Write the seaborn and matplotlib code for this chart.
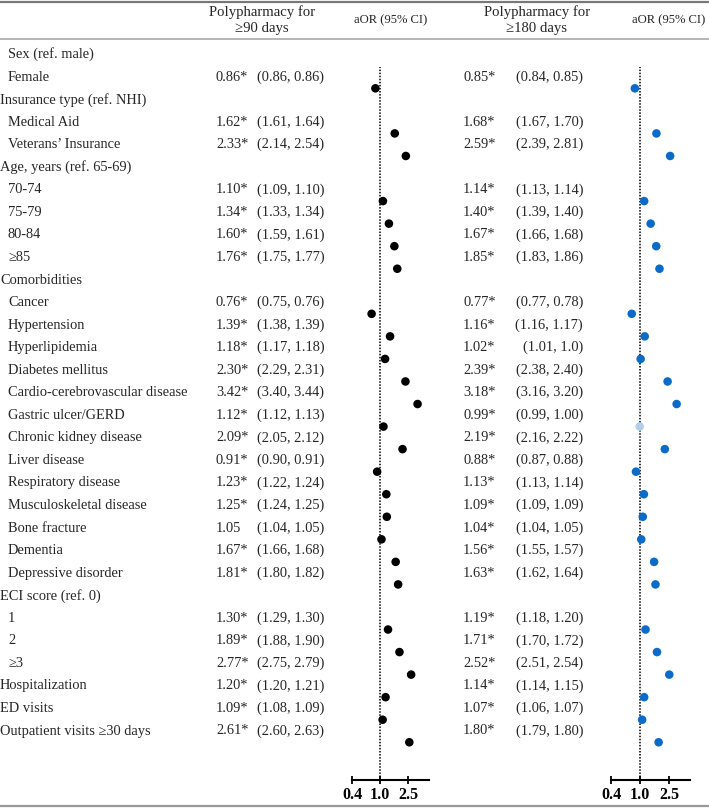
import numpy as np
import matplotlib.pyplot as plt
import seaborn as sns

# table rows (header rows have no estimates)
labels = ['Sex (ref. male)', 'Female', 'Insurance type (ref. NHI)', 'Medical Aid',
          'Veterans\u2019 Insurance', 'Age, years (ref. 65-69)', '70-74', '75-79',
          '80-84', '\u226585', 'Comorbidities', 'Cancer', 'Hypertension',
          'Hyperlipidemia', 'Diabetes mellitus', 'Cardio-cerebrovascular disease',
          'Gastric ulcer/GERD', 'Chronic kidney disease', 'Liver disease',
          'Respiratory disease', 'Musculoskeletal disease', 'Bone fracture',
          'Dementia', 'Depressive disorder', 'ECI score (ref. 0)', '1', '2',
          '\u22653', 'Hospitalization', 'ED visits', 'Outpatient visits \u226530 days']
indent = [1, 1, 0, 1, 1, 0, 1, 1, 1, 1, 0, 1, 1, 1, 1, 1, 1, 1, 1, 1, 1, 1, 1, 1,
          0, 1, 1, 1, 0, 0, 0]

# polypharmacy for >=90 days
aor_90 = [np.nan, 0.86, np.nan, 1.62, 2.33, np.nan, 1.10, 1.34, 1.60, 1.76, np.nan,
          0.76, 1.39, 1.18, 2.30, 3.42, 1.12, 2.09, 0.91, 1.23, 1.25, 1.05, 1.67,
          1.81, np.nan, 1.30, 1.89, 2.77, 1.20, 1.09, 2.61]
est_90 = ['', '0.86*', '', '1.62*', '2.33*', '', '1.10*', '1.34*', '1.60*', '1.76*', '',
          '0.76*', '1.39*', '1.18*', '2.30*', '3.42*', '1.12*', '2.09*', '0.91*',
          '1.23*', '1.25*', '1.05', '1.67*', '1.81*', '', '1.30*', '1.89*', '2.77*',
          '1.20*', '1.09*', '2.61*']
ci_90 = ['', '(0.86, 0.86)', '', '(1.61, 1.64)', '(2.14, 2.54)', '', '(1.09, 1.10)',
         '(1.33, 1.34)', '(1.59, 1.61)', '(1.75, 1.77)', '', '(0.75, 0.76)',
         '(1.38, 1.39)', '(1.17, 1.18)', '(2.29, 2.31)', '(3.40, 3.44)', '(1.12, 1.13)',
         '(2.05, 2.12)', '(0.90, 0.91)', '(1.22, 1.24)', '(1.24, 1.25)', '(1.04, 1.05)',
         '(1.66, 1.68)', '(1.80, 1.82)', '', '(1.29, 1.30)', '(1.88, 1.90)',
         '(2.75, 2.79)', '(1.20, 1.21)', '(1.08, 1.09)', '(2.60, 2.63)']

# polypharmacy for >=180 days
aor_180 = [np.nan, 0.85, np.nan, 1.68, 2.59, np.nan, 1.14, 1.40, 1.67, 1.85, np.nan,
           0.77, 1.16, 1.02, 2.39, 3.18, 0.99, 2.19, 0.88, 1.13, 1.09, 1.04, 1.56,
           1.63, np.nan, 1.19, 1.71, 2.52, 1.14, 1.07, 1.80]
est_180 = ['', '0.85*', '', '1.68*', '2.59*', '', '1.14*', '1.40*', '1.67*', '1.85*', '',
           '0.77*', '1.16*', '1.02*', '2.39*', '3.18*', '0.99*', '2.19*', '0.88*',
           '1.13*', '1.09*', '1.04*', '1.56*', '1.63*', '', '1.19*', '1.71*', '2.52*',
           '1.14*', '1.07*', '1.80*']
ci_180 = ['', '(0.84, 0.85)', '', '(1.67, 1.70)', '(2.39, 2.81)', '', '(1.13, 1.14)',
          '(1.39, 1.40)', '(1.66, 1.68)', '(1.83, 1.86)', '', '(0.77, 0.78)',
          '(1.16, 1.17)', '(1.01, 1.0)', '(2.38, 2.40)', '(3.16, 3.20)', '(0.99, 1.00)',
          '(2.16, 2.22)', '(0.87, 0.88)', '(1.13, 1.14)', '(1.09, 1.09)', '(1.04, 1.05)',
          '(1.55, 1.57)', '(1.62, 1.64)', '', '(1.18, 1.20)', '(1.70, 1.72)',
          '(2.51, 2.54)', '(1.14, 1.15)', '(1.06, 1.07)', '(1.79, 1.80)']

axis_ticks = [0.4, 1.0, 2.5]
tick_labels = ['0.4', '1.0', '2.5']


sns.set_theme(style='white')
plt.rcParams['font.family'] = ['Liberation Serif', 'DejaVu Serif']

W, H = 709, 810
ROW0, ROWH = 54.5, 22.55


def row_of(px):
    return (px - ROW0) / ROWH


fig = plt.figure(figsize=(W / 100, H / 100), dpi=100)

# text layer in pixel-x / row-y coordinates
ax_t = fig.add_axes([0, 0, 1, 1])
ax_t.set_xlim(0, W)
ax_t.set_ylim(row_of(H), row_of(0))
ax_t.axis('off')

fs = 10.4
rows = np.arange(len(labels))
for r in rows:
    ax_t.text(8 if indent[r] else 0, r, labels[r], fontsize=fs, va='center', ha='left')
    ax_t.text(216, r, est_90[r], fontsize=fs, va='center', ha='left')
    ax_t.text(257, r, ci_90[r], fontsize=fs, va='center', ha='left')
    ax_t.text(463, r, est_180[r], fontsize=fs, va='center', ha='left')
    ax_t.text(583, r, ci_180[r], fontsize=fs, va='center', ha='right')

hy = row_of(20)
ax_t.text(262, hy, 'Polypharmacy for\n\u226590 days', fontsize=10.6, ha='center',
          va='center', linespacing=1.35)
ax_t.text(537, hy, 'Polypharmacy for\n\u2265180 days', fontsize=10.6, ha='center',
          va='center', linespacing=1.35)
ax_t.text(391, hy, 'aOR (95% CI)', fontsize=9.1, ha='center', va='center')
ax_t.text(669, hy, 'aOR (95% CI)', fontsize=9.1, ha='center', va='center')

# table rules
ax_t.axhline(row_of(2), color='#777777', lw=1.6)
ax_t.axhline(row_of(39), color='#aaaaaa', lw=1.2)
ax_t.axhline(row_of(806), color='#999999', lw=1.6)


def forest(left_px, right_px, xmax, values, colors):
    ax = fig.add_axes([left_px / W, 1 - 780 / H, (right_px - left_px) / W, (780 - 67) / H])
    ax.patch.set_alpha(0)
    ax.set_xscale('log')
    ax.axvline(1.0, color='black', ls=(0, (1, 1)), lw=1.1, zorder=1)
    values = np.asarray(values)
    keep = ~np.isnan(values)
    sns.scatterplot(x=values[keep], y=rows[keep] + 0.5, ax=ax,
                    c=list(np.asarray(colors)[keep]), s=38,
                    edgecolor='none', zorder=3)
    ax.set_xlim(0.4, xmax)
    ax.set_ylim(row_of(780), row_of(67))
    ax.set_yticks([])
    ax.set_xticks(axis_ticks)
    ax.set_xticklabels(tick_labels, fontweight='bold', fontsize=11.5)
    ax.minorticks_off()
    ax.tick_params(axis='x', direction='inout', length=6, width=1.3, pad=2,
                   bottom=True, colors='black')
    for s in ['top', 'left', 'right']:
        ax.spines[s].set_visible(False)
    ax.spines['bottom'].set_color('black')
    ax.spines['bottom'].set_linewidth(1.5)
    ax.set_xlabel('')
    ax.set_ylabel('')
    return ax


colors_90 = ['black'] * len(labels)
colors_180 = ['#0a6bc8'] * len(labels)
colors_180[labels.index('Gastric ulcer/GERD')] = '#b5cfea'

forest(352, 429, 4.97, aor_90, colors_90)
forest(611, 690, 4.85, aor_180, colors_180)

fig.savefig('out.png', dpi=100)
